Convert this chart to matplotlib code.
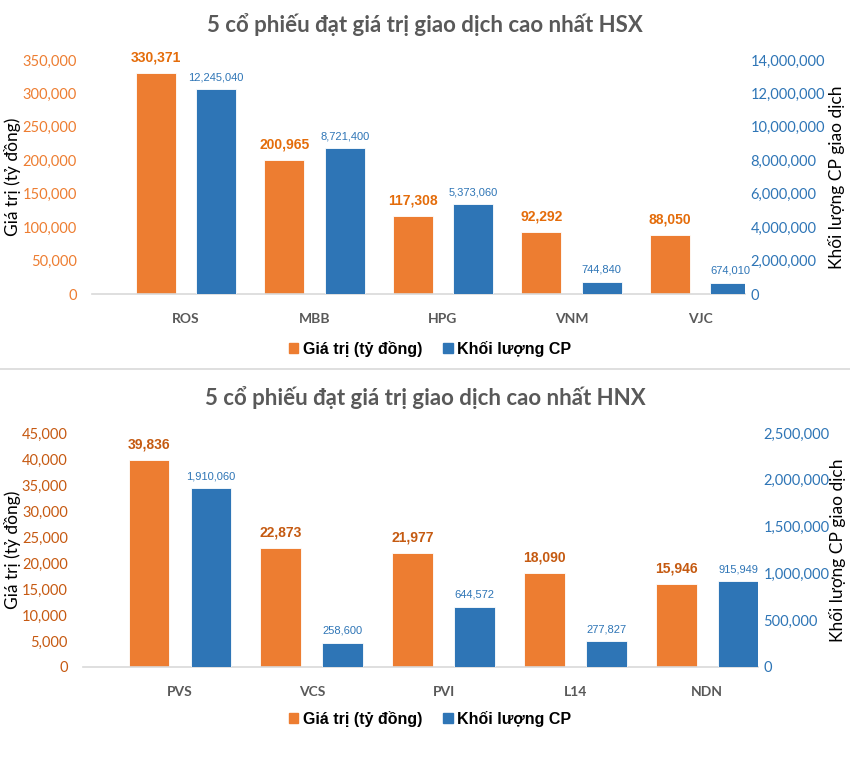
import matplotlib
matplotlib.use("Agg")
import matplotlib.pyplot as plt
from matplotlib import font_manager
from matplotlib.patches import Patch
import numpy as np

# data
hsx_codes = ["ROS", "MBB", "HPG", "VNM", "VJC"]
hsx_value = [330371, 200965, 117308, 92292, 88050]
hsx_volume = [12245040, 8721400, 5373060, 744840, 674010]

hnx_codes = ["PVS", "VCS", "PVI", "L14", "NDN"]
hnx_value = [39836, 22873, 21977, 18090, 15946]
hnx_volume = [1910060, 258600, 644572, 277827, 915949]

ORANGE = "#ED7D31"
BLUE = "#2E75B6"
GRAY = "#595959"

try:
    font_manager.findfont("Liberation Sans Narrow", fallback_to_default=False)
    NARROW = "Liberation Sans Narrow"
except Exception:
    NARROW = "Liberation Sans"

MAIN = "Lato"

fig = plt.figure(figsize=(8.5, 7.7), dpi=100)


def draw(rect, title, title_y, codes, value, volume, ymax, ystep, y2max, y2step,
         tick_col, lab_col, xlim, legend_y, ylab_x, y2lab_x):
    ax = fig.add_axes(rect)
    ax2 = ax.twinx()
    x = np.arange(len(codes))
    w = 0.31
    off = 0.235
    ax.bar(x - off, value, w, color=ORANGE, edgecolor="white", linewidth=0.6, zorder=2)
    ax2.bar(x + off, volume, w, color=BLUE, edgecolor="white", linewidth=0.6, zorder=2)

    ax.set_ylim(0, ymax)
    ax2.set_ylim(0, y2max)
    ax.set_xlim(*xlim)
    ax.set_yticks(np.arange(0, ymax + 1, ystep))
    ax2.set_yticks(np.arange(0, y2max + 1, y2step))
    ax.yaxis.set_major_formatter(matplotlib.ticker.FuncFormatter(lambda v, p: f"{int(v):,}"))
    ax2.yaxis.set_major_formatter(matplotlib.ticker.FuncFormatter(lambda v, p: f"{int(v):,}"))
    ax.set_xticks(x)
    ax.set_xticklabels(codes, fontfamily=MAIN, fontweight="bold", fontsize=10, color=GRAY)

    for a in (ax, ax2):
        for s in a.spines.values():
            s.set_visible(False)
        a.tick_params(length=0)
    ax.spines["bottom"].set_visible(True)
    ax.spines["bottom"].set_color("#D9D9D9")
    ax.spines["bottom"].set_linewidth(1.2)
    ax.tick_params(axis="x", pad=14)
    ax.tick_params(axis="y", pad=11, labelcolor=tick_col, labelsize=10.5)
    ax2.tick_params(axis="y", pad=4, labelcolor=BLUE, labelsize=10.5)
    for t in ax.get_yticklabels() + ax2.get_yticklabels():
        t.set_fontfamily(MAIN)

    for xi, v in zip(x, value):
        ax.annotate(f"{v:,}", (xi - off, v), xytext=(0, 6), textcoords="offset points",
                    ha="center", va="bottom", color=lab_col, fontweight="bold",
                    fontsize=10, fontfamily=NARROW)
    for xi, v in zip(x, volume):
        ax2.annotate(f"{v:,}", (xi + off, v), xytext=(0, 5), textcoords="offset points",
                     ha="center", va="bottom", color=BLUE, fontsize=8, fontfamily=NARROW)

    ax.set_ylabel("Giá trị (tỷ đồng)", fontsize=12.5, fontfamily=MAIN)
    ax.yaxis.set_label_coords(ylab_x, 0.5)
    ax2.set_ylabel("Khối lượng CP giao dịch", fontsize=12.5, fontfamily=MAIN)
    ax2.yaxis.set_label_coords(y2lab_x, 0.5)

    fig.text(0.5, title_y, title, ha="center", va="center", fontsize=16,
             fontweight="bold", color=GRAY, fontfamily=MAIN)

    handles = [Patch(color=ORANGE, label="Giá trị (tỷ đồng)"),
               Patch(color=BLUE, label="Khối lượng CP")]
    fig.legend(handles=handles, loc="center", bbox_to_anchor=(0.506, legend_y), ncol=2,
               frameon=False, prop={"family": "Liberation Sans", "weight": "bold", "size": 11.5},
               handlelength=0.6, handleheight=0.6, handletextpad=0.3, columnspacing=1.3)
    return ax, ax2


draw([92 / 850, 1 - 294 / 770, 653 / 850, 234 / 770],
     "5 cổ phiếu đạt giá trị giao dịch cao nhất HSX", 1 - 25 / 770,
     hsx_codes, hsx_value, hsx_volume, 350000, 50000, 14000000, 2000000,
     ORANGE, "#E46C0A", (-0.731, 4.35), 1 - 349 / 770,
     (21 - 92) / 653, (828 - 92) / 653)

draw([83 / 850, 1 - 667 / 770, 675 / 850, 234 / 770],
     "5 cổ phiếu đạt giá trị giao dịch cao nhất HNX", 1 - 398 / 770,
     hnx_codes, hnx_value, hnx_volume, 45000, 5000, 2500000, 500000,
     "#C65911", "#C55A11", (-0.736, 4.385), 1 - 719 / 770,
     (21 - 83) / 675, (829 - 83) / 675)

# separator between the two charts
fig.add_artist(plt.Line2D([0, 1], [1 - 369 / 770, 1 - 369 / 770], color="#D9D9D9", linewidth=1.2))

fig.savefig("out.png", dpi=100)
